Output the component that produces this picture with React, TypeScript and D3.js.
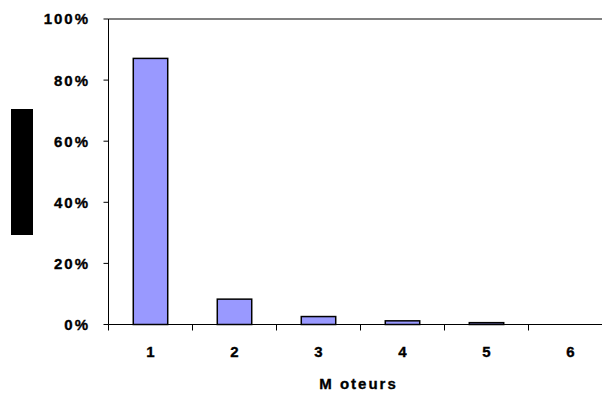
import React from "react";
import * as d3 from "d3";

const categories = ["1", "2", "3", "4", "5", "6"];
const values = [0.871, 0.083, 0.026, 0.012, 0.006, 0];
const yTicks = [0, 0.2, 0.4, 0.6, 0.8, 1.0];
const xTitle = "M oteurs";

const W = 602;
const H = 394;
const left = 108.5;
const top = 19;
const bottom = 324.5;
const step = 84;

export default function App() {
  const x = d3
    .scaleBand<string>()
    .domain(categories)
    .range([left, left + step * categories.length])
    .paddingInner(0.59)
    .paddingOuter(0.295);
  const y = d3.scaleLinear().domain([0, 1]).range([bottom, top]);
  const fmt = d3.format(".0%");
  const font = "'Liberation Sans', Arial, sans-serif";
  const heavy = { stroke: "#000", strokeWidth: 0.35 };

  return (
    <svg
      width={W}
      height={H}
      style={{ position: "absolute", left: 0, top: 0, background: "#fff" }}
    >
      <rect x={0} y={0} width={W} height={H} fill="#fff" />
      {/* top border line */}
      <line x1={left} x2={W} y1={y(1)} y2={y(1)} stroke="#808080" strokeWidth={2} />
      {/* bars */}
      {categories.map((c, i) =>
        values[i] > 0 ? (
          <rect
            key={c}
            x={x(c)}
            y={y(values[i])}
            width={x.bandwidth()}
            height={bottom - y(values[i])}
            fill="#9999FF"
            stroke="#000"
            strokeWidth={1.5}
          />
        ) : null
      )}
      {/* y axis */}
      <line x1={left} x2={left} y1={top} y2={bottom} stroke="#000" strokeWidth={1} />
      {yTicks.map((t) => (
        <g key={t}>
          <line x1={left - 5} x2={left} y1={y(t)} y2={y(t)} stroke="#000" strokeWidth={1} />
          <text
            x={90}
            y={y(t)}
            dy="0.36em"
            textAnchor="end"
            fontFamily={font}
            fontWeight="bold"
            fontSize={15}
            letterSpacing={2}
            fill="#000"
            {...heavy}
          >
            {fmt(t)}
          </text>
        </g>
      ))}
      {/* x axis */}
      <line x1={left} x2={W} y1={bottom} y2={bottom} stroke="#000" strokeWidth={1} />
      {categories.map((c, i) => (
        <line
          key={"t" + c}
          x1={left + step * i}
          x2={left + step * i}
          y1={bottom}
          y2={bottom + 6}
          stroke="#000"
          strokeWidth={1}
        />
      ))}
      {categories.map((c) => (
        <text
          key={"l" + c}
          x={(x(c) as number) + x.bandwidth() / 2}
          y={351.5}
          dy="0.36em"
          textAnchor="middle"
          fontFamily={font}
          fontWeight="bold"
          fontSize={15}
          fill="#000"
          {...heavy}
        >
          {c}
        </text>
      ))}
      <text
        x={358.5}
        y={389}
        textAnchor="middle"
        fontFamily={font}
        fontWeight="bold"
        fontSize={15}
        letterSpacing={2}
        fill="#000"
        {...heavy}
      >
        {xTitle}
      </text>
      {/* redacted y-axis title */}
      <rect x={11} y={109} width={22} height={126} fill="#000" />
    </svg>
  );
}
